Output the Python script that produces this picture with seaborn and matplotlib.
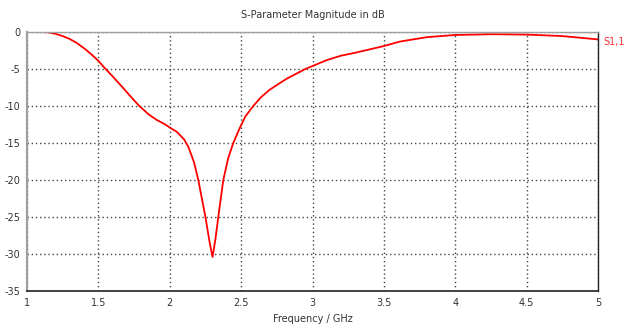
import numpy as np
import pandas as pd
import matplotlib
matplotlib.use("Agg")
import matplotlib.pyplot as plt
import seaborn as sns

# ==========================
# DATA
# ==========================

freq = [1.0, 1.1, 1.15, 1.2, 1.25, 1.3, 1.35, 1.4, 1.45, 1.5, 1.546, 1.6,
        1.675, 1.73, 1.787, 1.85, 1.91, 1.96, 2.0, 2.05, 2.1, 2.13, 2.17,
        2.2, 2.25, 2.28, 2.3, 2.32, 2.34, 2.375, 2.41, 2.445, 2.49, 2.53,
        2.585, 2.64, 2.7, 2.82, 2.95, 3.05, 3.1, 3.2, 3.3, 3.5, 3.61, 3.8,
        4.0, 4.25, 4.5, 4.75, 5.0]
s11_db = [0.0, 0.0, -0.05, -0.25, -0.55, -0.95, -1.5, -2.2, -3.0, -3.9,
          -4.9, -6.0, -7.6, -8.8, -10.0, -11.1, -11.9, -12.4, -12.9, -13.5,
          -14.5, -15.5, -17.6, -20.0, -25.0, -28.5, -30.4, -28.0, -25.0,
          -20.0, -17.0, -15.0, -13.0, -11.4, -10.0, -8.8, -7.8, -6.3, -5.0,
          -4.2, -3.8, -3.2, -2.8, -1.9, -1.3, -0.7, -0.4, -0.3, -0.35,
          -0.55, -1.0]

x_ticks = [1, 1.5, 2, 2.5, 3, 3.5, 4, 4.5, 5]
y_ticks = [0, -5, -10, -15, -20, -25, -30, -35]

df = pd.DataFrame({"Frequency": freq, "S11": s11_db})

# ==========================
# PLOT
# ==========================

sns.set_style("white")
plt.rcParams["font.family"] = ["DejaVu Sans"]

fig = plt.figure(figsize=(6.26, 3.32), dpi=100)
ax = fig.add_axes([27 / 626, 1 - 291 / 332, 571 / 626, 259 / 332])

sns.lineplot(data=df, x="Frequency", y="S11", color="#ff0000",
             linewidth=1.3, ax=ax)

ax.set_xlim(1, 5)
ax.set_ylim(-35, 0)
ax.set_xticks(x_ticks)
ax.set_xticklabels([f"{t:g}" for t in x_ticks])
ax.set_yticks(y_ticks)
ax.set_yticklabels([f"{t:g}" for t in y_ticks])

ax.grid(True, color="#444444", linestyle=(0, (1, 2)), linewidth=1.0)
ax.tick_params(axis="both", labelsize=7, colors="#333333",
               direction="out", length=3, width=0.8, pad=2)

ax.spines["left"].set_color("#a0a0a0")
ax.spines["left"].set_linewidth(1.6)
ax.spines["top"].set_color("#a0a0a0")
ax.spines["top"].set_linewidth(1.0)
ax.spines["top"].set_zorder(3)
ax.spines["bottom"].set_color("#222222")
ax.spines["bottom"].set_linewidth(1.2)
ax.spines["right"].set_color("#222222")
ax.spines["right"].set_linewidth(1.0)

ax.set_xlabel("Frequency / GHz", fontsize=7, color="#333333", labelpad=4)
ax.set_ylabel("")
ax.set_title("S-Parameter Magnitude in dB", fontsize=7, color="#333333",
             pad=10)

ax.text(1.01, -1.3, "S1,1", transform=ax.get_yaxis_transform(),
        color="#ff3333", fontsize=7, va="center", ha="left")

fig.savefig("out.png", dpi=100)
